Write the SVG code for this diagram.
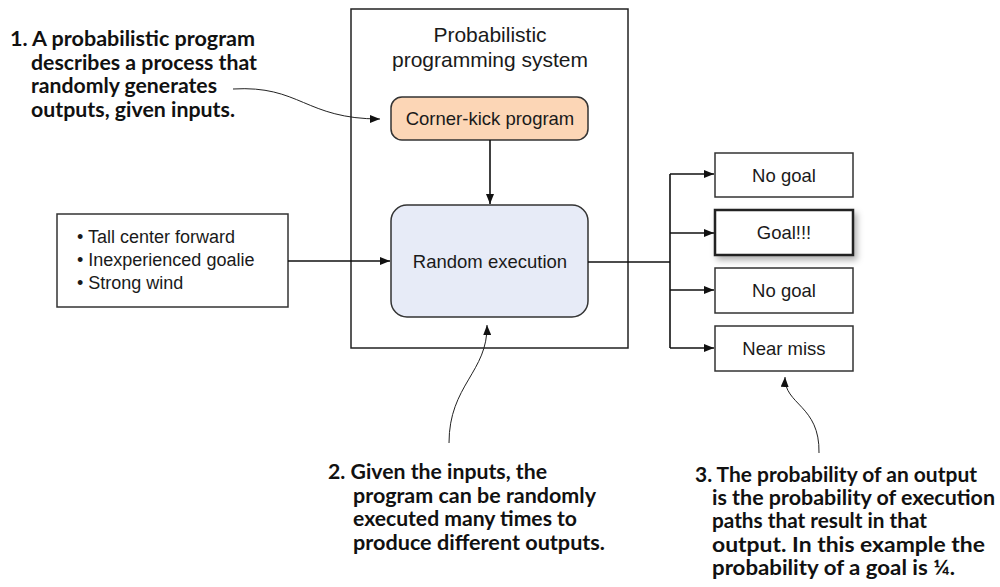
<svg xmlns="http://www.w3.org/2000/svg" width="1000" height="587" viewBox="0 0 1000 587">
<style>
.box{fill:#ffffff;stroke:#333333;stroke-width:1.5}
.lbl{font-family:"Liberation Sans",Arial,sans-serif;font-size:18.5px;fill:#1a1a1a;text-anchor:middle}
.in{font-family:"Liberation Sans",Arial,sans-serif;font-size:18px;fill:#1a1a1a}
.note{font-family:Lato,"Open Sans",sans-serif;font-weight:bold;font-size:21px;fill:#111111}
.conn{fill:none;stroke:#111111;stroke-width:1.6}
.thin{fill:none;stroke:#222222;stroke-width:1}
</style>
<defs>
<marker id="ah" viewBox="0 0 10 8" refX="10" refY="4" markerWidth="10" markerHeight="8" markerUnits="userSpaceOnUse" orient="auto">
<path d="M0,0 L10,4 L0,8 z" fill="#111111"/>
</marker>
<filter id="sh" x="-20%" y="-30%" width="150%" height="180%">
<feDropShadow dx="3" dy="4" stdDeviation="3" flood-color="#000000" flood-opacity="0.3"/>
</filter>
</defs>
<rect width="1000" height="587" fill="#ffffff"/>

<g id="system">
<rect x="351" y="9" width="277" height="339" fill="none" stroke="#222222" stroke-width="1.5"/>
<text class="lbl" font-size="21" x="490" y="42" style="font-size:21px">Probabilistic</text>
<text class="lbl" x="490" y="67" style="font-size:21px">programming system</text>
</g>

<g id="corner-kick">
<rect x="391" y="97" width="197" height="43" rx="11" fill="#fcd6b6" stroke="#333333" stroke-width="1.5"/>
<text class="lbl" x="490" y="125">Corner-kick program</text>
</g>

<g id="random-execution">
<rect x="391" y="205" width="197" height="112" rx="16" fill="#e7ebf7" stroke="#333333" stroke-width="1.5"/>
<text class="lbl" x="490" y="267.5">Random execution</text>
</g>

<g id="inputs">
<rect class="box" x="57" y="214" width="231" height="93"/>
<text class="in" x="77" y="243">• Tall center forward</text>
<text class="in" x="77" y="266">• Inexperienced goalie</text>
<text class="in" x="77" y="289">• Strong wind</text>
</g>

<g id="out1">
<rect class="box" x="715" y="153" width="138" height="44"/>
<text class="lbl" x="784" y="181.5">No goal</text>
</g>
<g id="out2">
<rect x="715" y="210" width="138" height="45" fill="#ffffff" stroke="#222222" stroke-width="2.5" filter="url(#sh)"/>
<text class="lbl" x="784" y="239">Goal!!!</text>
</g>
<g id="out3">
<rect class="box" x="715" y="268" width="138" height="45"/>
<text class="lbl" x="784" y="297">No goal</text>
</g>
<g id="out4">
<rect class="box" x="715" y="326" width="138" height="45"/>
<text class="lbl" x="784" y="355">Near miss</text>
</g>

<g id="connectors">
<path class="conn" d="M490,140 L490,204" marker-end="url(#ah)"/>
<path class="conn" d="M288,261 L390,261" marker-end="url(#ah)"/>
<path class="conn" d="M588,262 L670,262"/>
<path class="conn" d="M670,174 L670,348"/>
<path class="conn" d="M670,174 L714,174" marker-end="url(#ah)"/>
<path class="conn" d="M670,233 L714,233" marker-end="url(#ah)"/>
<path class="conn" d="M670,290 L714,290" marker-end="url(#ah)"/>
<path class="conn" d="M670,348 L714,348" marker-end="url(#ah)"/>
<path class="thin" d="M233,89 C300,85 305,119 380,119" marker-end="url(#ah)"/>
<path class="thin" d="M449,443 C449,385 488,372 487,325" marker-end="url(#ah)"/>
<path class="thin" d="M819,453 C820,405 784,405 785,377" marker-end="url(#ah)"/>
</g>

<g id="note1">
<text class="note" x="10" y="46" textLength="245" lengthAdjust="spacingAndGlyphs">1. A probabilistic program</text>
<text class="note" x="31" y="69.5" textLength="226" lengthAdjust="spacingAndGlyphs">describes a process that</text>
<text class="note" x="31" y="93" textLength="186" lengthAdjust="spacingAndGlyphs">randomly generates</text>
<text class="note" x="31" y="116.5" textLength="204" lengthAdjust="spacingAndGlyphs">outputs, given inputs.</text>
</g>

<g id="note2">
<text class="note" x="328" y="479" textLength="219" lengthAdjust="spacingAndGlyphs">2. Given the inputs, the</text>
<text class="note" x="353" y="502.5" textLength="243" lengthAdjust="spacingAndGlyphs">program can be randomly</text>
<text class="note" x="353" y="526" textLength="224" lengthAdjust="spacingAndGlyphs">executed many times to</text>
<text class="note" x="353" y="549.5" textLength="252" lengthAdjust="spacingAndGlyphs">produce different outputs.</text>
</g>

<g id="note3">
<text class="note" x="695" y="482" textLength="282" lengthAdjust="spacingAndGlyphs">3. The probability of an output</text>
<text class="note" x="712" y="505" textLength="283" lengthAdjust="spacingAndGlyphs">is the probability of execution</text>
<text class="note" x="712" y="528" textLength="215" lengthAdjust="spacingAndGlyphs">paths that result in that</text>
<text class="note" x="712" y="551.5" textLength="273" lengthAdjust="spacingAndGlyphs">output. In this example the</text>
<text class="note" x="712" y="575" textLength="243" lengthAdjust="spacingAndGlyphs">probability of a goal is ¼.</text>
</g>
</svg>
